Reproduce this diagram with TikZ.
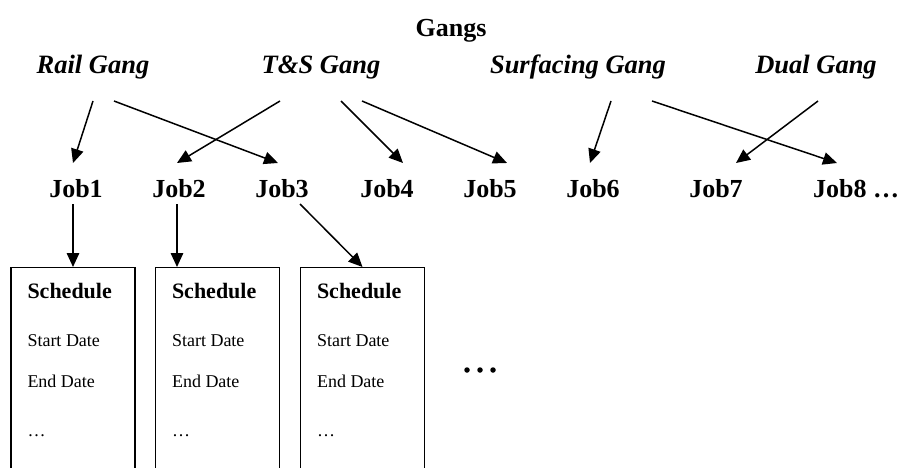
\documentclass[tikz,border=0pt]{standalone}
\usepackage{fontspec}
\setmainfont{Liberation Serif}
\usetikzlibrary{arrows.meta,calc}
\tikzset{
  title/.style={font=\fontsize{26}{30}\selectfont\bfseries, anchor=base, inner sep=0pt},
  gang/.style={font=\fontsize{26.5}{30}\selectfont\bfseries\itshape, anchor=base, inner sep=0pt},
  job/.style={font=\fontsize{26}{30}\selectfont\bfseries, anchor=base, inner sep=0pt},
  sched/.style={draw=black, line width=1.4pt, minimum width=124pt, minimum height=300pt, anchor=north, inner sep=0pt},
  schedhead/.style={font=\fontsize{22}{26}\selectfont\bfseries, anchor=base west, inner sep=0pt},
  field/.style={font=\fontsize{18}{22}\selectfont, anchor=base west, inner sep=0pt},
  link/.style={line width=1.5pt, -{Triangle[length=14pt,width=12.5pt]}},
  dot/.style={circle, fill=black, inner sep=0pt, minimum size=5.5pt}
}
\begin{document}
\begin{tikzpicture}[x=1pt, y=-1pt]
  \useasboundingbox[fill=white] (0,0) rectangle (902,468);

  % heading and gang types
  \node[title] (gangs) at (451,37) {Gangs};
  \node[gang] (rail) at (93,74) {Rail Gang};
  \node[gang] (ts) at (321,74) {T\&S Gang};
  \node[gang] (surf) at (578,74) {Surfacing Gang};
  \node[gang] (dual) at (816,74) {Dual Gang};

  % jobs
  \node[job] (job1) at (76,197) {Job1};
  \node[job] (job2) at (179,197) {Job2};
  \node[job] (job3) at (282,197) {Job3};
  \node[job] (job4) at (387,197) {Job4};
  \node[job] (job5) at (490,197) {Job5};
  \node[job] (job6) at (593,197) {Job6};
  \node[job] (job7) at (716,197) {Job7};
  \node[job, anchor=base west] (job8) at (813,197) {Job8 \ldots};

  % gang -> job assignments
  \draw[link] ($(rail.base)+(0,27)$) -- ($(job1.base)+(-3,-34)$);
  \draw[link] ($(rail.base)+(21,27)$) -- ($(job3.base)+(-4,-34)$);
  \draw[link] ($(ts.base)+(-41,27)$) -- ($(job2.base)+(-2,-34)$);
  \draw[link] ($(ts.base)+(20,27)$) -- ($(job4.base)+(16,-34)$);
  \draw[link] ($(ts.base)+(41,27)$) -- ($(job5.base)+(17,-34)$);
  \draw[link] ($(surf.base)+(33,27)$) -- ($(job6.base)+(-3,-34)$);
  \draw[link] ($(surf.base)+(74,27)$) -- ($(job8.base west)+(24,-34)$);
  \draw[link] ($(dual.base)+(2,27)$) -- ($(job7.base)+(20,-34)$);

  % schedule records, running off the bottom edge
  \node[sched] (box1) at (73,267) {};
  \node[sched] (box2) at (217.5,267) {};
  \node[sched] (box3) at (362.5,267) {};

  \foreach \b in {1,2,3}{
    \node[schedhead] (head\b) at ($(box\b.north west)+(17,31)$) {Schedule};
    \node[field] (start\b) at ($(box\b.north west)+(17,79)$) {Start Date};
    \node[field] (end\b) at ($(box\b.north west)+(17,120)$) {End Date};
    \node[field] (more\b) at ($(box\b.north west)+(17,169)$) {\ldots};
  }

  % job -> schedule links
  \coordinate (from1) at ($(job1.base)+(-3,7)$);
  \coordinate (from2) at ($(job2.base)+(-2,7)$);
  \coordinate (from3) at ($(job3.base)+(18,7)$);
  \draw[link] (from1) -- (from1 |- box1.north);
  \draw[link] (from2) -- (from2 |- box2.north);
  \draw[link] (from3) -- (box3.north);

  % further records
  \node[dot] (etc1) at (467,370) {};
  \node[dot] (etc2) at (480,370) {};
  \node[dot] (etc3) at (493,370) {};
\end{tikzpicture}
\end{document}
